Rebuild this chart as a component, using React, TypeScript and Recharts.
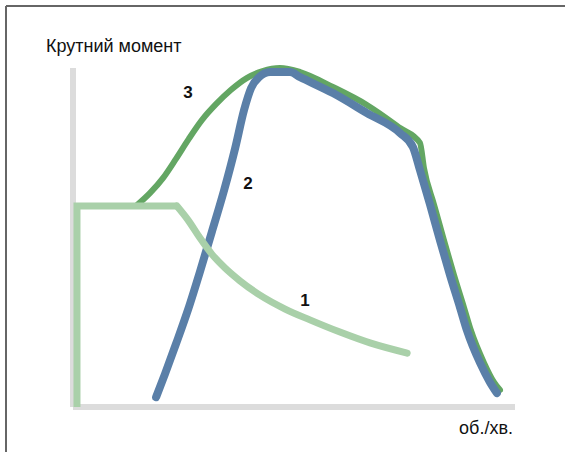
import { LineChart, Line, XAxis, YAxis, ReferenceLine } from "recharts";

// curve 1: constant torque, then falling
const curve1Flat = [
  { x: 0.9, y: 0 },
  { x: 0.9, y: 59.3 },
  { x: 23.5, y: 59.3 },
];
const curve1Fall = [
  { x: 23.5, y: 59.3 },
  { x: 26, y: 55.2 },
  { x: 28.7, y: 49.9 },
  { x: 31.4, y: 45.1 },
  { x: 34.4, y: 41 },
  { x: 37.8, y: 37.2 },
  { x: 42.3, y: 33 },
  { x: 48, y: 28.9 },
  { x: 53.6, y: 25.7 },
  { x: 60.4, y: 22.1 },
  { x: 67.2, y: 18.9 },
  { x: 75.6, y: 15.9 },
];

// curve 2 (blue)
const curve2 = [
  { x: 18.8, y: 2.9 },
  { x: 20.8, y: 9.7 },
  { x: 23.3, y: 18.6 },
  { x: 26, y: 28.6 },
  { x: 28.7, y: 39.8 },
  { x: 31.4, y: 51.6 },
  { x: 34.2, y: 64 },
  { x: 36.7, y: 76.4 },
  { x: 38.7, y: 87.6 },
  { x: 40.3, y: 94.1 },
  { x: 42.1, y: 97.3 },
  { x: 44.6, y: 98.8 },
  { x: 49.1, y: 98.8 },
  { x: 51.4, y: 97.3 },
  { x: 58.8, y: 92.6 },
  { x: 66.5, y: 86.7 },
  { x: 74, y: 80.8 },
  { x: 76.9, y: 76.7 },
  { x: 78.5, y: 69.9 },
  { x: 80.8, y: 59.6 },
  { x: 83, y: 49.3 },
  { x: 85.3, y: 38.9 },
  { x: 87.6, y: 29.2 },
  { x: 89.1, y: 22.7 },
  { x: 92.1, y: 13 },
  { x: 94.3, y: 7.4 },
  { x: 95.9, y: 4.1 },
];

// curve 3 (green)
const curve3 = [
  { x: 14.5, y: 59.6 },
  { x: 17.4, y: 63.1 },
  { x: 20.4, y: 67.6 },
  { x: 23.3, y: 73.2 },
  { x: 26.2, y: 79.1 },
  { x: 29.2, y: 84.7 },
  { x: 32.4, y: 89.4 },
  { x: 35.7, y: 93.5 },
  { x: 39.4, y: 97.1 },
  { x: 42.9, y: 99.1 },
  { x: 46.8, y: 100 },
  { x: 51.4, y: 98.8 },
  { x: 58.8, y: 94.4 },
  { x: 66.5, y: 89.1 },
  { x: 74, y: 82.3 },
  { x: 78.5, y: 77.9 },
  { x: 79.4, y: 70.5 },
  { x: 81.7, y: 59.6 },
  { x: 83.9, y: 49.3 },
  { x: 86.2, y: 38.9 },
  { x: 88.5, y: 29.2 },
  { x: 90, y: 22.7 },
  { x: 93, y: 13 },
  { x: 95.2, y: 7.4 },
  { x: 96.6, y: 5 },
];

const yTitle = "Крутний момент";
const xTitle = "об./хв.";

const W = 565;
const H = 452;
const font = "'Liberation Sans', Arial, sans-serif";
const axisGrey = "#dcdcdc";

export default function App() {
  return (
    <div style={{ position: "absolute", left: 0, top: 0, width: W, height: H, background: "#fff" }}>
      <LineChart
        width={W}
        height={H}
        margin={{ top: 68, right: 50, bottom: 45, left: 73 }}
      >
        <XAxis type="number" dataKey="x" domain={[0, 100]} hide />
        <YAxis type="number" dataKey="y" domain={[0, 100]} hide />
        <ReferenceLine x={0} stroke={axisGrey} strokeWidth={6} />
        <ReferenceLine y={0} stroke={axisGrey} strokeWidth={6} />
        <Line
          data={curve3}
          dataKey="y"
          type="monotone"
          stroke="#63a663"
          strokeWidth={6}
          strokeLinecap="round"
          dot={false}
          isAnimationActive={false}
        />
        <Line
          data={curve2}
          dataKey="y"
          type="monotone"
          stroke="#5a7fa8"
          strokeWidth={8}
          strokeLinecap="round"
          dot={false}
          isAnimationActive={false}
        />
        <Line
          data={curve1Flat}
          dataKey="y"
          type="linear"
          stroke="#a9d0a9"
          strokeWidth={7}
          dot={false}
          isAnimationActive={false}
        />
        <Line
          data={curve1Fall}
          dataKey="y"
          type="monotone"
          stroke="#a9d0a9"
          strokeWidth={7}
          strokeLinecap="round"
          dot={false}
          isAnimationActive={false}
        />
      </LineChart>
      <svg
        width={W}
        height={H}
        style={{ position: "absolute", left: 0, top: 0, pointerEvents: "none" }}
      >
        <line x1={6} y1={6} x2={W} y2={6} stroke="#666" strokeWidth={2} />
        <line x1={6} y1={6} x2={6} y2={H} stroke="#666" strokeWidth={2} />
        <text x={46} y={52} fontFamily={font} fontSize={18} fill="#111">
          {yTitle}
        </text>
        <text x={513} y={434} textAnchor="end" fontFamily={font} fontSize={18} fill="#111">
          {xTitle}
        </text>
        <text x={188} y={98} textAnchor="middle" fontFamily={font} fontSize={17} fontWeight="bold" fill="#111">
          3
        </text>
        <text x={248} y={189} textAnchor="middle" fontFamily={font} fontSize={17} fontWeight="bold" fill="#111">
          2
        </text>
        <text x={305} y={306} textAnchor="middle" fontFamily={font} fontSize={17} fontWeight="bold" fill="#111">
          1
        </text>
      </svg>
    </div>
  );
}
